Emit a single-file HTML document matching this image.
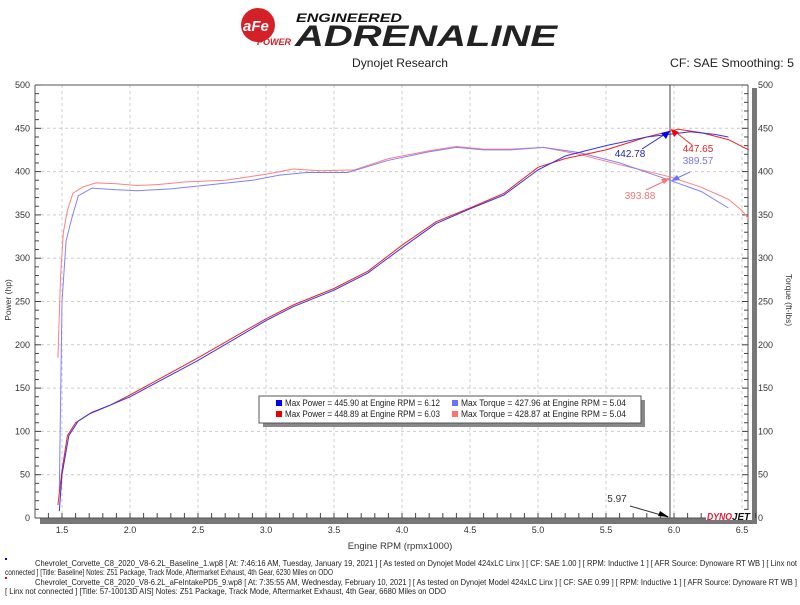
<!DOCTYPE html>
<html><head><meta charset="utf-8"><style>
body{margin:0;background:#fff;font-family:"Liberation Sans",sans-serif;}
svg text{font-family:"Liberation Sans",sans-serif;}
</style></head><body>
<svg id="s" width="800" height="600" xmlns="http://www.w3.org/2000/svg">
<circle cx="258" cy="25" r="17" fill="#d42027"/>
<text x="243" y="31" font-size="15" font-weight="bold" fill="#fff" font-style="italic">aFe</text>
<text x="257" y="45" font-size="9" font-weight="bold" fill="#d42027" font-style="italic">POWER</text>
<text x="296" y="22" font-size="12" font-weight="bold" fill="#111" font-style="italic" textLength="106" lengthAdjust="spacingAndGlyphs">ENGINEERED</text>
<text x="295" y="46" font-size="30" font-weight="bold" fill="#222" font-style="italic" textLength="262" lengthAdjust="spacingAndGlyphs">ADRENALINE</text>
<text x="400" y="67" font-size="12" text-anchor="middle" fill="#222" textLength="96" lengthAdjust="spacingAndGlyphs">Dynojet Research</text>
<text x="794" y="67" font-size="12" text-anchor="end" fill="#222" textLength="124" lengthAdjust="spacingAndGlyphs">CF: SAE Smoothing: 5</text>
<rect x="40" y="518" width="717" height="6" fill="#777"/>
<rect x="752" y="88" width="5" height="436" fill="#777"/>
<g id="grid" stroke="#ccc" stroke-dasharray="3,3" stroke-width="1"></g>
<line x1="35" y1="85" x2="748" y2="85" stroke="#555"/>
<line x1="35" y1="85" x2="35" y2="518" stroke="#555"/>
<line x1="35" y1="518" x2="752" y2="518" stroke="#555"/>
<line x1="748" y1="85" x2="748" y2="518" stroke="#555"/>
<g id="ticks" stroke="#444"></g>
<g id="labels" font-size="9" fill="#333"></g>
<text x="400" y="549" font-size="9.5" text-anchor="middle" fill="#333">Engine RPM (rpmx1000)</text>
<text x="11" y="300" font-size="8.5" fill="#333" transform="rotate(-90 11 300)" text-anchor="middle">Power (hp)</text>
<text x="786" y="300" font-size="8.5" fill="#333" transform="rotate(90 786 300)" text-anchor="middle">Torque (ft-lbs)</text>
<line x1="670" y1="85" x2="670" y2="518" stroke="#444"/>
<g id="curves" fill="none" stroke-width="1"></g>
<rect x="263" y="400" width="382" height="27" fill="#888"/>
<rect x="259" y="396" width="382" height="27" fill="#fff" stroke="#555"/>
<g font-size="9" fill="#222">
<rect x="276" y="400" width="6" height="6" fill="#0000ee"/><text x="285" y="406" textLength="155" lengthAdjust="spacingAndGlyphs">Max Power = 445.90 at Engine RPM = 6.12</text>
<rect x="276" y="411" width="6" height="6" fill="#ee0000"/><text x="285" y="417" textLength="155" lengthAdjust="spacingAndGlyphs">Max Power = 448.89 at Engine RPM = 6.03</text>
<rect x="452" y="400" width="6" height="6" fill="#6f6fff"/><text x="461" y="406" textLength="165" lengthAdjust="spacingAndGlyphs">Max Torque = 427.96 at Engine RPM = 5.04</text>
<rect x="452" y="411" width="6" height="6" fill="#ff7070"/><text x="461" y="417" textLength="165" lengthAdjust="spacingAndGlyphs">Max Torque = 428.87 at Engine RPM = 5.04</text>
</g>
<g font-size="10">
<text x="630" y="157" fill="#2222bb" text-anchor="middle">442.78</text>
<text x="698" y="152" fill="#dd2222" text-anchor="middle">447.65</text>
<text x="698" y="164" fill="#7777ee" text-anchor="middle">389.57</text>
<text x="640" y="199" fill="#ee7777" text-anchor="middle">393.88</text>
<text x="617" y="502" fill="#333" text-anchor="middle">5.97</text>
</g>
<g stroke-width="1">
<line x1="642" y1="149" x2="670" y2="131" stroke="#2222dd"/><polygon points="670,131 661,133 666,139" fill="#0000ee"/>
<line x1="692" y1="145" x2="673" y2="130" stroke="#ee3333"/><polygon points="671,129 674,137 679,132" fill="#ee0000"/>
<line x1="690" y1="172" x2="673" y2="180" stroke="#7777ee"/><polygon points="671,181 680,180 677,175" fill="#6f6fff"/>
<line x1="646" y1="190" x2="669" y2="179" stroke="#ee7777"/><polygon points="670,178 661,179 664,184" fill="#ff7070"/>
<line x1="630" y1="506" x2="668" y2="517" stroke="#333"/><polygon points="669,517 660,511 658,516" fill="#000"/>
</g>
<rect x="706" y="510" width="46" height="10" fill="#fff"/>
<text x="707" y="520" font-size="10" font-weight="bold" font-style="italic" fill="#e0203a" textLength="25" lengthAdjust="spacingAndGlyphs">DYNO</text>
<text x="732" y="520" font-size="10" font-weight="bold" font-style="italic" fill="#111" textLength="18" lengthAdjust="spacingAndGlyphs">JET</text>
<g font-size="8.5" fill="#222">
<rect x="5" y="558" width="2" height="2" fill="#0000ee"/>
<text x="35" y="566" textLength="762" lengthAdjust="spacingAndGlyphs">Chevrolet_Corvette_C8_2020_V8-6.2L_Baseline_1.wp8 [ At: 7:46:16 AM, Tuesday, January 19, 2021 ] [ As tested on Dynojet Model 424xLC Linx ] [ CF: SAE 1.00 ] [ RPM: Inductive 1 ] [ AFR Source: Dynoware RT WB ] [ Linx not</text>
<text x="5" y="575" textLength="328" lengthAdjust="spacingAndGlyphs">connected ] [Title: Baseline]  Notes: Z51 Package, Track Mode, Aftermarket Exhaust, 4th Gear, 6230 Miles on ODO</text>
<rect x="5" y="577" width="2" height="2" fill="#ee0000"/>
<text x="35" y="585" textLength="762" lengthAdjust="spacingAndGlyphs">Chevrolet_Corvette_C8_2020_V8-6.2L_aFeIntakePD5_9.wp8 [ At: 7:35:55 AM, Wednesday, February 10, 2021 ] [ As tested on Dynojet Model 424xLC Linx ] [ CF: SAE 0.99 ] [ RPM: Inductive 1 ] [ AFR Source: Dynoware RT WB ]</text>
<text x="5" y="594" textLength="441" lengthAdjust="spacingAndGlyphs">[ Linx not connected ] [Title: 57-10013D AIS]  Notes: Z51 Package, Track Mode, Aftermarket Exhaust, 4th Gear, 6680 Miles on ODO</text>
</g>
</svg>
<script>
var NS="http://www.w3.org/2000/svg";
function X(r){return 62+(r-1.5)*136;}
function Y(v){return 518-0.866*v;}
function el(p,t,a){var e=document.createElementNS(NS,t);for(var k in a)e.setAttribute(k,a[k]);document.getElementById(p).appendChild(e);return e;}
for(var r=1.5;r<=6.51;r+=0.5){el("grid","line",{x1:X(r),y1:85,x2:X(r),y2:518});var t=el("labels","text",{x:X(r),y:533,"text-anchor":"middle"});t.textContent=r.toFixed(1);}
for(var v=50;v<500;v+=50){el("grid","line",{x1:35,y1:Y(v),x2:748,y2:Y(v)});}
for(var v=0;v<=500;v+=50){var t=el("labels","text",{x:30,y:Y(v)+3,"text-anchor":"end"});t.textContent=v;var t2=el("labels","text",{x:758,y:Y(v)+3});t2.textContent=v;}
for(var v=0;v<=500;v+=10){var L=v%50?4:6;el("ticks","line",{x1:35,y1:Y(v),x2:35+L,y2:Y(v)});el("ticks","line",{x1:748,y1:Y(v),x2:748-L,y2:Y(v)});}
for(var r=1.4;r<=6.61;r+=0.1){el("ticks","line",{x1:X(r),y1:518,x2:X(r),y2:513});}
function path(pts,c){var d="";pts.forEach(function(p,i){d+=(i?"L":"M")+X(p[0]).toFixed(1)+","+Y(p[1]).toFixed(1);});el("curves","path",{d:d,stroke:c});}
path([[1.47,185],[1.49,280],[1.51,330],[1.54,355],[1.58,375],[1.65,382],[1.75,387],[1.9,386],[2.05,384],[2.2,385],[2.4,388],[2.7,390],[3.0,397],[3.2,403],[3.4,401],[3.65,402],[3.9,415],[4.2,424],[4.4,429],[4.6,426],[4.8,426],[5.04,428],[5.3,420],[5.6,408],[5.97,394],[6.2,382],[6.4,368],[6.5,355],[6.55,345]],"#ff8080");
path([[1.48,30],[1.5,250],[1.53,320],[1.57,345],[1.62,372],[1.72,381],[1.9,379],[2.05,378],[2.3,380],[2.6,385],[2.9,390],[3.1,396],[3.3,399],[3.6,399],[3.9,413],[4.2,423],[4.4,428],[4.6,425],[4.8,425],[5.04,428],[5.3,422],[5.6,410],[5.97,390],[6.2,377],[6.4,358]],"#8080ff");
path([[1.47,15],[1.5,55],[1.54,95],[1.6,110],[1.7,120],[1.85,130],[2.0,142],[2.5,185],[3.0,230],[3.2,246],[3.5,265],[3.75,285],[4.0,315],[4.25,342],[4.5,358],[4.75,375],[5.0,405],[5.2,415],[5.5,425],[5.8,440],[6.03,449],[6.2,445],[6.4,437],[6.55,425]],"#ee2222");
path([[1.48,8],[1.5,50],[1.55,95],[1.62,112],[1.72,122],[1.85,130],[2.0,140],[2.5,182],[3.0,228],[3.2,244],[3.5,263],[3.75,283],[4.0,312],[4.25,340],[4.5,357],[4.75,373],[5.0,402],[5.2,418],[5.5,430],[5.8,440],[6.12,446],[6.3,443],[6.4,440]],"#3333ee");
</script>
</body></html>
